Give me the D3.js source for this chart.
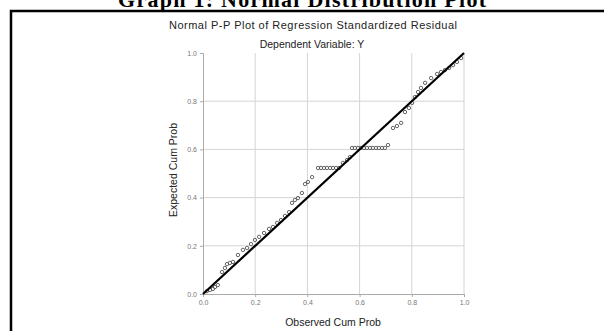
<!DOCTYPE html>
<html>
<head>
<meta charset="utf-8">
<script src="https://cdnjs.cloudflare.com/ajax/libs/d3/7.8.5/d3.min.js"></script>
<style>
  body { margin: 0; background: #fff; }
  svg { display: block; }
</style>
</head>
<body>
<svg width="604" height="331"></svg>
<script>
// Observed and expected cumulative probabilities
const observed = [0.015, 0.027, 0.038, 0.046, 0.057, 0.073, 0.084, 0.092, 0.103, 0.115,
  0.134, 0.153, 0.169, 0.184, 0.199, 0.215, 0.234, 0.253, 0.268, 0.284,
  0.299, 0.314, 0.330, 0.341, 0.352, 0.364, 0.379, 0.391, 0.402, 0.418,
  0.441, 0.452, 0.464, 0.475, 0.487, 0.498, 0.510, 0.521,
  0.536, 0.552, 0.563,
  0.571, 0.582, 0.594, 0.605, 0.617, 0.628, 0.640, 0.651, 0.663, 0.674, 0.686, 0.697,
  0.709, 0.728, 0.743, 0.759, 0.774, 0.789, 0.801, 0.812, 0.824, 0.835,
  0.851, 0.874, 0.897, 0.912, 0.927, 0.943, 0.958, 0.973, 0.989];
const expected = [0.012, 0.017, 0.021, 0.029, 0.037, 0.091, 0.108, 0.124, 0.129, 0.133,
  0.162, 0.183, 0.191, 0.207, 0.224, 0.237, 0.253, 0.270, 0.278, 0.295,
  0.307, 0.324, 0.340, 0.378, 0.390, 0.398, 0.419, 0.456, 0.465, 0.485,
  0.523, 0.523, 0.523, 0.523, 0.523, 0.523, 0.523, 0.523,
  0.544, 0.556, 0.568,
  0.606, 0.606, 0.606, 0.606, 0.606, 0.606, 0.606, 0.606, 0.606, 0.606, 0.606, 0.606,
  0.618, 0.689, 0.697, 0.710, 0.755, 0.772, 0.793, 0.817, 0.838, 0.855,
  0.876, 0.896, 0.913, 0.921, 0.929, 0.938, 0.950, 0.963, 0.979];
const ticks = [0, 0.2, 0.4, 0.6, 0.8, 1.0];

const points = observed.map((o, i) => ({obs: o, exp: expected[i]}));

const svg = d3.select("svg");

// Page heading (cut at the top) and the frame round the figure
svg.append("text")
  .attr("x", 302)
  .attr("y", 7)
  .attr("text-anchor", "middle")
  .attr("font-family", "Liberation Serif")
  .attr("font-weight", "bold")
  .attr("font-size", 22)
  .attr("textLength", 368)
  .text("Graph 1: Normal Distribution Plot");

svg.append("rect")
  .attr("x", 11)
  .attr("y", 11)
  .attr("width", 620)
  .attr("height", 340)
  .attr("fill", "none")
  .attr("stroke", "#000")
  .attr("stroke-width", 2.5);

// Scales
const xScale = d3.scaleLinear().domain([0, 1]).range([203, 464]);
const yScale = d3.scaleLinear().domain([0, 1]).range([294, 53]);

// Grid lines
svg.append("g")
  .selectAll("line")
  .data(ticks.slice(1))
  .enter()
  .append("line")
  .attr("x1", d => xScale(d))
  .attr("x2", d => xScale(d))
  .attr("y1", yScale(0))
  .attr("y2", yScale(1))
  .attr("stroke", "#d4d4d4")
  .attr("stroke-width", 1);

svg.append("g")
  .selectAll("line")
  .data(ticks.slice(1, 5))
  .enter()
  .append("line")
  .attr("x1", xScale(0))
  .attr("x2", xScale(1))
  .attr("y1", d => yScale(d))
  .attr("y2", d => yScale(d))
  .attr("stroke", "#d4d4d4")
  .attr("stroke-width", 1);

// Axes
const xAxis = d3.axisBottom(xScale).tickValues(ticks).tickFormat(d3.format(".1f")).tickSize(3);
const yAxis = d3.axisLeft(yScale).tickValues(ticks).tickFormat(d3.format(".1f")).tickSize(3);

const gx = svg.append("g")
  .attr("transform", `translate(0,${yScale(0)})`)
  .call(xAxis);
const gy = svg.append("g")
  .attr("transform", `translate(${xScale(0)},0)`)
  .call(yAxis);

[gx, gy].forEach(g => {
  g.select(".domain").attr("stroke", "#aaa");
  g.selectAll(".tick line").attr("stroke", "#aaa");
  g.selectAll(".tick text")
    .attr("fill", "#777")
    .attr("font-family", "Liberation Sans")
    .attr("font-size", 7);
});

// Points
svg.append("g")
  .selectAll("circle")
  .data(points)
  .enter()
  .append("circle")
  .attr("cx", d => xScale(d.obs))
  .attr("cy", d => yScale(d.exp))
  .attr("r", 1.7)
  .attr("fill", "none")
  .attr("stroke", "#555")
  .attr("stroke-width", 0.9);

// Diagonal reference line
svg.append("line")
  .attr("x1", xScale(0))
  .attr("y1", yScale(0))
  .attr("x2", xScale(1))
  .attr("y2", yScale(1))
  .attr("stroke", "#000")
  .attr("stroke-width", 2.2);

// Chart titles
svg.append("text")
  .attr("x", 313)
  .attr("y", 29)
  .attr("text-anchor", "middle")
  .attr("font-family", "Liberation Sans")
  .attr("font-size", 11)
  .attr("fill", "#222")
  .attr("textLength", 288)
  .text("Normal P-P Plot of Regression Standardized Residual");

svg.append("text")
  .attr("x", 312)
  .attr("y", 48)
  .attr("text-anchor", "middle")
  .attr("font-family", "Liberation Sans")
  .attr("font-size", 10.5)
  .attr("fill", "#222")
  .text("Dependent Variable: Y");

svg.append("text")
  .attr("x", 333)
  .attr("y", 326)
  .attr("text-anchor", "middle")
  .attr("font-family", "Liberation Sans")
  .attr("font-size", 10.5)
  .attr("fill", "#222")
  .text("Observed Cum Prob");

svg.append("text")
  .attr("transform", "translate(177,170) rotate(-90)")
  .attr("text-anchor", "middle")
  .attr("font-family", "Liberation Sans")
  .attr("font-size", 10.5)
  .attr("fill", "#222")
  .text("Expected Cum Prob");
</script>
</body>
</html>
